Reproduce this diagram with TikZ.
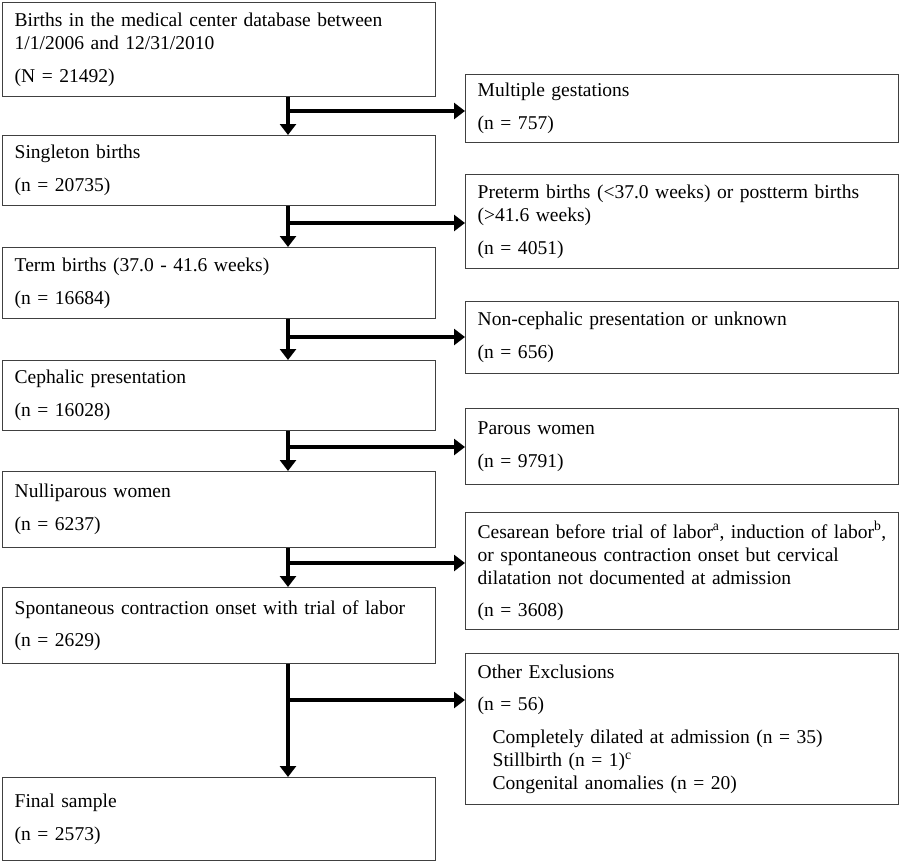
\documentclass[tikz,border=0pt]{standalone}
\usepackage{fontspec}
\setmainfont{Liberation Serif}
\usetikzlibrary{arrows.meta}

\begin{document}
\begin{tikzpicture}[x=1bp, y=-1bp,
  box/.style={draw={rgb:black,3;white,1}, line width=1.4bp, rectangle, anchor=north west,
    text width=409bp, inner xsep=12bp, inner ysep=0pt, align=left,
    font=\fontsize{19.6}{23}\selectfont},
  arr/.style={line width=3.2bp, -{Triangle[width=16bp,length=11bp]}}]
  \useasboundingbox (0,0) rectangle (900,862);
  % main stream
  \node[box, minimum height=94bp] (b1) at (2,2) {Births in the medical center database between\\1/1/2006 and 12/31/2010\\[10bp](N = 21492)};
  \node[box, minimum height=70bp] (b2) at (2,135) {Singleton births\\[10bp](n = 20735)};
  \node[box, minimum height=71bp] (b3) at (2,247) {Term births (37.0 - 41.6 weeks)\\[10bp](n = 16684)};
  \node[box, minimum height=70bp] (b4) at (2,360) {Cephalic presentation\\[10bp](n = 16028)};
  \node[box, minimum height=76bp] (b5) at (2,471) {Nulliparous women\\[10bp](n = 6237)};
  \node[box, minimum height=76bp] (b6) at (2,587) {Spontaneous contraction onset with trial of labor\\[10bp](n = 2629)};
  \node[box, minimum height=83bp] (b7) at (2,777) {Final sample\\[10bp](n = 2573)};
  % exclusions
  \node[box, minimum height=68bp] (e1) at (465,74) {Multiple gestations\\[10bp](n = 757)};
  \node[box, minimum height=94bp] (e2) at (465,174) {Preterm births (<37.0 weeks) or postterm births\\(>41.6 weeks)\\[10bp](n = 4051)};
  \node[box, minimum height=72bp] (e3) at (465,301) {Non-cephalic presentation or unknown\\[10bp](n = 656)};
  \node[box, minimum height=76bp] (e4) at (465,408) {Parous women\\[10bp](n = 9791)};
  \node[box, minimum height=117bp] (e5) at (465,512) {\mbox{Cesarean before trial of labor\textsuperscript{a}, induction of labor\textsuperscript{b},}\\or spontaneous contraction onset but cervical\\dilatation not documented at admission\\[10bp](n = 3608)};
  \node[box, minimum height=151bp] (e6) at (465,653) {Other Exclusions\\[10bp](n = 56)\\[10bp]
    \hspace*{15bp}Completely dilated at admission (n = 35)\\
    \hspace*{15bp}Stillbirth (n = 1)\textsuperscript{c}\\
    \hspace*{15bp}Congenital anomalies (n = 20)};
  \foreach \a/\b/\e/\y in {
    b1/b2/e1/111, b2/b3/e2/223,
    b3/b4/e3/337, b4/b5/e4/447,
    b5/b6/e5/563, b6/b7/e6/700} {
    \coordinate (j) at (288,\y);
    \draw[arr] (\a.south -| j) -- (\b.north -| j);
    \draw[arr] (j) -- (j -| \e.west);
  }
\end{tikzpicture}
\end{document}
